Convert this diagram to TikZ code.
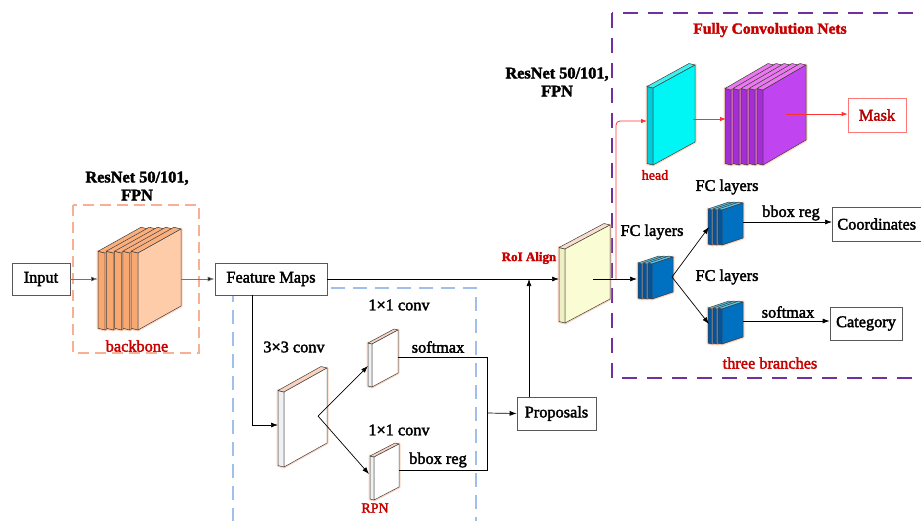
\documentclass[tikz,border=0pt]{standalone}
\usepackage{fontspec}
\setmainfont{Liberation Serif}[FakeBold=2.2]
\usetikzlibrary{arrows.meta,calc}
\definecolor{txtred}{RGB}{200,0,0}
\definecolor{maskred}{RGB}{180,0,0}
\definecolor{linered}{RGB}{255,50,50}
\definecolor{maskbox}{RGB}{255,120,120}
\definecolor{orgdash}{RGB}{247,176,145}
\definecolor{bluedash}{RGB}{160,192,235}
\definecolor{purdash}{RGB}{112,48,160}
\definecolor{glowc}{RGB}{250,165,120}
\definecolor{bbface}{RGB}{255,204,170}
\definecolor{bbside}{RGB}{249,168,112}
\definecolor{bbtop}{RGB}{250,175,125}
\definecolor{wface}{RGB}{255,255,255}
\definecolor{wside}{RGB}{240,240,240}
\definecolor{wtop}{RGB}{250,210,190}
\definecolor{yface}{RGB}{250,252,212}
\definecolor{yside}{RGB}{238,240,195}
\definecolor{ytop}{RGB}{250,222,205}
\definecolor{cface}{RGB}{0,245,245}
\definecolor{cside}{RGB}{0,205,220}
\definecolor{ctop}{RGB}{60,240,240}
\definecolor{pface}{RGB}{192,68,240}
\definecolor{pside}{RGB}{165,45,215}
\definecolor{ptop}{RGB}{235,120,240}
\definecolor{blface}{RGB}{0,112,192}
\definecolor{blside}{RGB}{0,85,160}
\definecolor{bltop}{RGB}{80,200,240}
% #1 xl, #2 yt, #3 w, #4 h, #5 skew, #6 thickness, #7 face, #8 side, #9 top
\newcommand\slab[9]{%
  \draw[glow] (#1,#2) ++(-#6,-#6/4) -- ++(#6,#6/4) -- ++(#3,-#5) -- ++(0,#4) -- ++(-#3,#5) -- ++(-#6,-#6/4) -- cycle;
  \draw[plateedge, fill=#8] (#1,#2) -- ++(0,#4) -- ++(-#6,-#6/4) -- ++(0,-#4) -- cycle;
  \draw[plateedge, fill=#9] (#1,#2) -- ++(#3,-#5) -- ++(-#6,-#6/4) -- ++(-#3,#5) -- cycle;
  \draw[plateedge, fill=#7] (#1,#2) -- ++(#3,-#5) -- ++(0,#4) -- ++(-#3,#5) -- cycle;
}
\tikzset{
  glow/.style={draw=glowc, line width=3pt, opacity=0.45, line join=round},
  plateedge/.style={draw=black!75, line width=0.5pt, line join=round},
  txt/.style={font=\fontsize{16.3}{18}\selectfont, inner sep=0pt},
  redtxt/.style={txt, text=txtred},
  boxnode/.style={draw=black!65, line width=0.7pt, font=\fontsize{16.3}{18}\selectfont, minimum height=33pt, inner xsep=5pt, inner ysep=0pt, fill=white},
  conn/.style={draw=black, line width=0.7pt, -{Latex[length=7pt,width=5pt]}},
  gconn/.style={draw=black!55, line width=0.8pt, -{Latex[length=7pt,width=5pt,fill=black]}},
  line/.style={draw=black, line width=0.7pt},
  rconn/.style={draw=linered, line width=0.8pt, -{Latex[length=6pt,width=4.5pt]}},
}
\begin{document}
\begin{tikzpicture}[x=1pt,y=-1pt]
\useasboundingbox (0,0) rectangle (921,520);

% dashed groups
\draw[draw=orgdash, line width=1.1pt, dash pattern=on 11pt off 6pt] (73,205) rectangle (199,353);
\draw[draw=bluedash, line width=1.1pt, dash pattern=on 14pt off 8pt] (233,288) rectangle (476,530);
\draw[draw=purdash, line width=1.5pt, dash pattern=on 15pt off 10pt] (612,13) rectangle (935,378);

% texts
\node[txt, font=\fontsize{16.3}{18}\selectfont\bfseries, align=center] (rn1) at (137,186) {ResNet 50/101,\\FPN};
\node[txt, font=\fontsize{16.3}{18}\selectfont\bfseries, align=center] (rn2) at (557,82) {ResNet 50/101,\\FPN};
\node[redtxt, font=\fontsize{15.5}{18}\selectfont\bfseries] (fcn) at (770,30) {Fully Convolution Nets};
\node[redtxt] (bbl) at (137,346) {backbone};
\node[redtxt, font=\fontsize{14}{16}\selectfont] (rpnl) at (375,508) {RPN};
\node[redtxt, font=\fontsize{14}{16}\selectfont] (headl) at (655,175) {head};
\node[redtxt, font=\fontsize{13}{16}\selectfont\bfseries] (roil) at (529,258) {RoI Align};
\node[redtxt] (tbl) at (770,363) {three branches};
\node[txt] (c33) at (294,347) {3×3 conv};
\node[txt] (c11a) at (399,305) {1×1 conv};
\node[txt] (c11b) at (399,430) {1×1 conv};
\node[txt] (smx1) at (438,347) {softmax};
\node[txt] (bbr1) at (438,460) {bbox reg};
\node[txt] (fc1) at (727,187) {FC layers};
\node[txt] (fc2) at (652,232) {FC layers};
\node[txt] (fc3) at (727,277) {FC layers};
\node[txt] (bbr2) at (791,213) {bbox reg};
\node[txt] (smx2) at (788,312) {softmax};

% boxes
\node[boxnode, minimum width=58pt, minimum height=32pt] (input) at (41,279) {Input};
\node[boxnode, minimum width=112pt, minimum height=32pt] (fm) at (271,279) {Feature Maps};
\node[boxnode, minimum width=79pt] (prop) at (556.5,413.5) {Proposals};
\node[boxnode, draw=maskbox, text=maskred, minimum width=58pt, minimum height=34pt] (mask) at (877,115) {Mask};
\node[boxnode, minimum height=34pt, anchor=west, text width=80pt, align=left] (coord) at (832,224) {Coordinates};
\node[boxnode, minimum width=72pt] (cat) at (866,323.5) {Category};

% plates
\foreach \i in {0,...,4} {\slab{105+8.25*\i}{253}{43}{77}{24}{7}{bbface}{bbside}{bbtop}}
\slab{284}{392}{43}{75}{24}{6}{wface}{wside}{wtop}
\slab{372}{344}{26}{43}{14}{4}{wface}{wside}{wtop}
\slab{374}{457}{25}{43}{13}{4}{wface}{wside}{wtop}
\slab{565}{249}{45}{74}{24}{6}{yface}{yside}{ytop}
\slab{653}{88}{42}{77}{23}{6}{cface}{cside}{ctop}
\foreach \i in {0,...,4} {\slab{731+8*\i}{90}{43}{75}{25}{6}{pface}{pside}{ptop}}
\foreach \i in {0,...,2} {\slab{642+5*\i}{264}{21}{35}{7}{4}{blface}{blside}{bltop}}
\foreach \i in {0,...,2} {\slab{712+5*\i}{210}{21}{35}{7}{4}{blface}{blside}{bltop}}
\foreach \i in {0,...,2} {\slab{712+5*\i}{309}{21}{35}{7}{4}{blface}{blside}{bltop}}

% connection points
\coordinate (bbIn) at (98,279);
\coordinate (bbOut) at (181,279);
\coordinate (fmDown) at (252,295);
\coordinate (c3In) at (278,425);
\coordinate (c3C) at (318,416);
\coordinate (u1In) at (368,366);
\coordinate (u1Out) at (398,357);
\coordinate (d1In) at (369,474);
\coordinate (d1Out) at (399,470);
\coordinate (jTop) at (487,357);
\coordinate (jBot) at (487,470);
\coordinate (jMid) at (487,413);
\coordinate (roiJ) at (529,279);
\coordinate (roiIn) at (559,279);
\coordinate (roiOut) at (593,279);
\coordinate (fcIn) at (637,279);
\coordinate (redStart) at (616,279);
\coordinate (headIn) at (647,121);
\coordinate (headOut) at (693,119);
\coordinate (purpIn) at (726,119);
\coordinate (purpOut) at (786,114);
\coordinate (fcOut) at (672,277);
\coordinate (upIn) at (709,227);
\coordinate (upOut) at (743,222);
\coordinate (lowIn) at (709,324);
\coordinate (lowOut) at (743,321);

% connectors
\draw[gconn] (input.east) -- (bbIn);
\draw[gconn] (bbOut) -- (fm.west);
\draw[conn] (fm.east) -- (roiIn);
\draw[conn] (fm.south -| fmDown) |- (c3In);
\draw[conn] (c3C) -- (u1In);
\draw[conn] (c3C) -- (d1In);
\draw[line] (u1Out) -- (jTop) -- (jBot) -- (d1Out);
\draw[conn] (jMid) -- (prop.west);
\draw[conn] (roiJ |- prop.north) -- (roiJ);
\draw[conn] (roiOut) -- (fcIn);
\draw[rconn, rounded corners=4pt] (redStart) |- (headIn);
\draw[rconn] (headOut) -- (purpIn);
\draw[rconn] (purpOut) -- (purpOut -| mask.west);
\draw[conn] (fcOut) -- (upIn);
\draw[conn] (fcOut) -- (lowIn);
\draw[conn] (upOut) -- (upOut -| coord.west);
\draw[conn] (lowOut) -- (lowOut -| cat.west);
\end{tikzpicture}
\end{document}
